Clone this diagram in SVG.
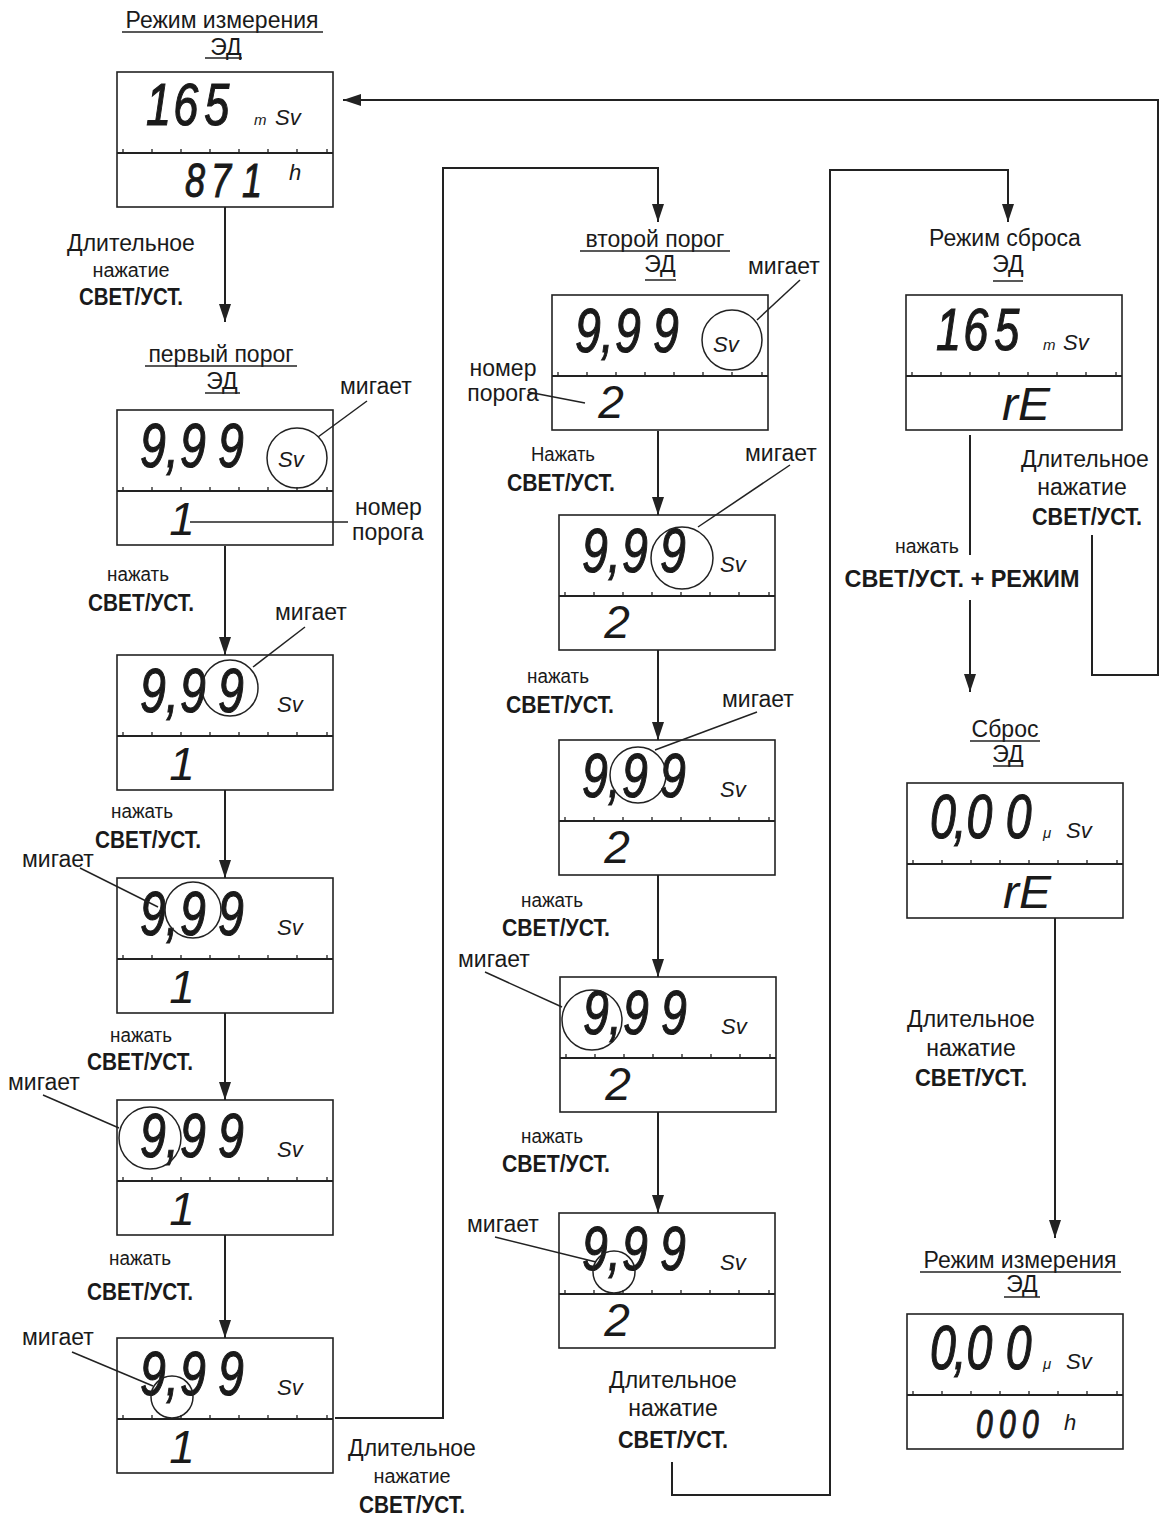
<svg xmlns="http://www.w3.org/2000/svg" xmlns:xlink="http://www.w3.org/1999/xlink" width="1161" height="1521" viewBox="0 0 1161 1521">
<style>
text{font-family:"Liberation Sans",Arial,sans-serif;fill:#1a1a1a}
.t{font-size:23px}
.m{text-anchor:middle}
.s{font-size:20px;text-anchor:middle}
.b{font-size:23px;font-weight:bold;text-anchor:middle}
.big{font-size:62px;font-style:italic;stroke:#1a1a1a;stroke-width:1.2}
.big6{font-size:60px;font-style:italic;stroke:#1a1a1a;stroke-width:1.2}
.sm{font-size:46px;font-style:italic}
.smb{font-style:italic;stroke:#1a1a1a;stroke-width:1}
.u{font-size:22px;font-style:italic}
.mu{font-size:15px;font-style:italic}
.ul{stroke:#222;stroke-width:1.5}
.frm{fill:#fff;stroke:#222;stroke-width:1.6}
.div{stroke:#222;stroke-width:2;fill:none}
.tk{stroke:#222;stroke-width:1.3}
.cir{fill:none;stroke:#222;stroke-width:1.5}
.ld{stroke:#222;stroke-width:1.5;fill:none}
.cn{stroke:#222;stroke-width:2;fill:none}
</style>
<defs>
<g id="frame">
<rect class="frm" x="0" y="0" width="216" height="135"/>
<line class="div" x1="0" y1="81" x2="216" y2="81"/>
<path class="tk" d="M6,81v-4M35,81v-4M64,81v-4M93,81v-4M122,81v-4M151,81v-4M180,81v-4M210,81v-4"/>
</g>
<marker id="ah" markerUnits="userSpaceOnUse" markerWidth="18" markerHeight="12" refX="18" refY="6" orient="auto">
<path d="M0,0L18,6L0,12z" fill="#222"/>
</marker>
</defs>
<rect width="1161" height="1521" fill="#fff"/>

<g id="connectors">
<line class="cn" x1="225" y1="207" x2="225" y2="322" marker-end="url(#ah)"/>
<line class="cn" x1="225" y1="546" x2="225" y2="655" marker-end="url(#ah)"/>
<line class="cn" x1="225" y1="790" x2="225" y2="878" marker-end="url(#ah)"/>
<line class="cn" x1="225" y1="1013" x2="225" y2="1100" marker-end="url(#ah)"/>
<line class="cn" x1="225" y1="1235" x2="225" y2="1338" marker-end="url(#ah)"/>
<polyline class="cn" points="335,1418 443,1418 443,168 658,168 658,222" marker-end="url(#ah)"/>
<line class="cn" x1="658" y1="431" x2="658" y2="515" marker-end="url(#ah)"/>
<line class="cn" x1="658" y1="650" x2="658" y2="740" marker-end="url(#ah)"/>
<line class="cn" x1="658" y1="875" x2="658" y2="977" marker-end="url(#ah)"/>
<line class="cn" x1="658" y1="1112" x2="658" y2="1213" marker-end="url(#ah)"/>
<polyline class="cn" points="672,1462 672,1495 830,1495 830,170 1008,170 1008,222" marker-end="url(#ah)"/>
<line class="cn" x1="970" y1="435" x2="970" y2="555"/>
<line class="cn" x1="970" y1="600" x2="970" y2="692" marker-end="url(#ah)"/>
<polyline class="cn" points="1092,535 1092,675 1158,675 1158,100 343,100" marker-end="url(#ah)"/>
<line class="cn" x1="1055" y1="918" x2="1055" y2="1238" marker-end="url(#ah)"/>
</g>

<g id="labels">
<text class="t m" x="131" y="251">Длительное</text>
<text class="s" x="131" y="277" textLength="77" lengthAdjust="spacingAndGlyphs">нажатие</text>
<text class="b" x="131" y="305" textLength="104" lengthAdjust="spacingAndGlyphs">СВЕТ/УСТ.</text>
<text class="s" x="138" y="581" textLength="62" lengthAdjust="spacingAndGlyphs">нажать</text>
<text class="b" x="141" y="611" textLength="106" lengthAdjust="spacingAndGlyphs">СВЕТ/УСТ.</text>
<text class="s" x="142" y="818" textLength="62" lengthAdjust="spacingAndGlyphs">нажать</text>
<text class="b" x="148" y="848" textLength="106" lengthAdjust="spacingAndGlyphs">СВЕТ/УСТ.</text>
<text class="s" x="141" y="1042" textLength="62" lengthAdjust="spacingAndGlyphs">нажать</text>
<text class="b" x="140" y="1070" textLength="106" lengthAdjust="spacingAndGlyphs">СВЕТ/УСТ.</text>
<text class="s" x="140" y="1265" textLength="62" lengthAdjust="spacingAndGlyphs">нажать</text>
<text class="b" x="140" y="1300" textLength="106" lengthAdjust="spacingAndGlyphs">СВЕТ/УСТ.</text>
<text class="t m" x="412" y="1456">Длительное</text>
<text class="s" x="412" y="1483" textLength="77" lengthAdjust="spacingAndGlyphs">нажатие</text>
<text class="b" x="412" y="1513" textLength="106" lengthAdjust="spacingAndGlyphs">СВЕТ/УСТ.</text>
<text class="s" x="563" y="461" textLength="64" lengthAdjust="spacingAndGlyphs">Нажать</text>
<text class="b" x="561" y="491" textLength="108" lengthAdjust="spacingAndGlyphs">СВЕТ/УСТ.</text>
<text class="s" x="558" y="683" textLength="62" lengthAdjust="spacingAndGlyphs">нажать</text>
<text class="b" x="560" y="713" textLength="108" lengthAdjust="spacingAndGlyphs">СВЕТ/УСТ.</text>
<text class="s" x="552" y="907" textLength="62" lengthAdjust="spacingAndGlyphs">нажать</text>
<text class="b" x="556" y="936" textLength="108" lengthAdjust="spacingAndGlyphs">СВЕТ/УСТ.</text>
<text class="s" x="552" y="1143" textLength="62" lengthAdjust="spacingAndGlyphs">нажать</text>
<text class="b" x="556" y="1172" textLength="108" lengthAdjust="spacingAndGlyphs">СВЕТ/УСТ.</text>
<text class="t m" x="673" y="1388">Длительное</text>
<text class="t m" x="673" y="1416">нажатие</text>
<text class="b" x="673" y="1448" textLength="110" lengthAdjust="spacingAndGlyphs">СВЕТ/УСТ.</text>
<text class="t m" x="1085" y="467">Длительное</text>
<text class="t m" x="1082" y="495">нажатие</text>
<text class="b" x="1087" y="525" textLength="110" lengthAdjust="spacingAndGlyphs">СВЕТ/УСТ.</text>
<text class="s" x="927" y="553" textLength="64" lengthAdjust="spacingAndGlyphs">нажать</text>
<text class="b" x="962" y="587" textLength="235" lengthAdjust="spacingAndGlyphs">СВЕТ/УСТ. + РЕЖИМ</text>
<text class="t m" x="971" y="1027">Длительное</text>
<text class="t m" x="971" y="1056">нажатие</text>
<text class="b" x="971" y="1086" textLength="112" lengthAdjust="spacingAndGlyphs">СВЕТ/УСТ.</text>
</g>

<g id="node-measure-1">
<text class="t m" x="222" y="28">Режим измерения</text>
<line class="ul" x1="122" y1="32" x2="323" y2="32"/>
<text class="t m" x="226" y="55">ЭД</text>
<line class="ul" x1="205" y1="58" x2="242" y2="58"/>
<use xlink:href="#frame" x="117" y="72"/>
<g transform="translate(146,125) scale(0.75,1)"><text class="big6" dx="0 3 8">165</text></g>
<text class="mu" x="254" y="125">m</text>
<text class="u" x="275" y="125">Sv</text>
<g transform="translate(185,197) scale(0.75,1)"><text class="smb" font-size="48" dx="0 8 14.6">871</text></g>
<text class="u" x="289" y="180">h</text>
</g>

<g id="node-threshold1-a">
<text class="t m" x="221" y="362">первый порог</text>
<line class="ul" x1="145" y1="366" x2="297" y2="366"/>
<text class="t m" x="222" y="389">ЭД</text>
<line class="ul" x1="205" y1="393" x2="240" y2="393"/>
<use xlink:href="#frame" x="117" y="410"/>
<g transform="translate(140,467) scale(0.75,1)"><text class="big" dx="0 0 1.6 16.2">9,99</text></g>
<text class="u" x="278" y="467">Sv</text>
<circle class="cir" cx="297" cy="458" r="30"/>
<line class="ld" x1="318" y1="437" x2="367" y2="401"/>
<text class="t" x="340" y="394">мигает</text>
<text class="sm m" x="182" y="535">1</text>
<line class="ld" x1="190" y1="522" x2="348" y2="522"/>
<text class="t" x="355" y="515">номер</text>
<text class="t" x="352" y="540">порога</text>
</g>

<g id="node-threshold1-b">
<use xlink:href="#frame" x="117" y="655"/>
<g transform="translate(140,712) scale(0.75,1)"><text class="big" dx="0 0 1.6 16.2">9,99</text></g>
<text class="u" x="277" y="712">Sv</text>
<circle class="cir" cx="230" cy="688" r="28"/>
<line class="ld" x1="253" y1="667" x2="305" y2="627"/>
<text class="t" x="275" y="620">мигает</text>
<text class="sm m" x="182" y="780">1</text>
</g>

<g id="node-threshold1-c">
<use xlink:href="#frame" x="117" y="878"/>
<g transform="translate(140,935) scale(0.75,1)"><text class="big" dx="0 0 1.6 16.2">9,99</text></g>
<text class="u" x="277" y="935">Sv</text>
<circle class="cir" cx="193" cy="910" r="28"/>
<line class="ld" x1="80" y1="868" x2="158" y2="907"/>
<text class="t" x="22" y="867">мигает</text>
<text class="sm m" x="182" y="1003">1</text>
</g>

<g id="node-threshold1-d">
<use xlink:href="#frame" x="117" y="1100"/>
<g transform="translate(140,1157) scale(0.75,1)"><text class="big" dx="0 0 1.6 16.2">9,99</text></g>
<text class="u" x="277" y="1157">Sv</text>
<circle class="cir" cx="150" cy="1138" r="31"/>
<line class="ld" x1="43" y1="1095" x2="119" y2="1128"/>
<text class="t" x="8" y="1090">мигает</text>
<text class="sm m" x="182" y="1225">1</text>
</g>

<g id="node-threshold1-e">
<use xlink:href="#frame" x="117" y="1338"/>
<g transform="translate(140,1395) scale(0.75,1)"><text class="big" dx="0 0 1.6 16.2">9,99</text></g>
<text class="u" x="277" y="1395">Sv</text>
<circle class="cir" cx="172" cy="1397" r="21"/>
<line class="ld" x1="72" y1="1352" x2="153" y2="1386"/>
<text class="t" x="22" y="1345">мигает</text>
<text class="sm m" x="182" y="1463">1</text>
</g>

<g id="node-threshold2-a">
<text class="t m" x="655" y="247">второй порог</text>
<line class="ul" x1="580" y1="251" x2="730" y2="251"/>
<text class="t m" x="660" y="272">ЭД</text>
<line class="ul" x1="645" y1="280" x2="676" y2="280"/>
<use xlink:href="#frame" x="552" y="295"/>
<g transform="translate(575,352) scale(0.75,1)"><text class="big" dx="0 0 1.6 16.2">9,99</text></g>
<text class="u" x="713" y="352">Sv</text>
<circle class="cir" cx="732" cy="340" r="30"/>
<line class="ld" x1="757" y1="320" x2="800" y2="280"/>
<text class="t" x="748" y="274">мигает</text>
<text class="sm m" x="611" y="418">2</text>
<line class="ld" x1="528" y1="392" x2="585" y2="403"/>
<text class="t m" x="503" y="376">номер</text>
<text class="t m" x="503" y="401">порога</text>
</g>

<g id="node-threshold2-b">
<use xlink:href="#frame" x="559" y="515"/>
<g transform="translate(582,572) scale(0.75,1)"><text class="big" dx="0 0 1.6 16.2">9,99</text></g>
<text class="u" x="720" y="572">Sv</text>
<circle class="cir" cx="682" cy="558" r="31"/>
<line class="ld" x1="698" y1="527" x2="790" y2="465"/>
<text class="t" x="745" y="461">мигает</text>
<text class="sm m" x="617" y="638">2</text>
</g>

<g id="node-threshold2-c">
<use xlink:href="#frame" x="559" y="740"/>
<g transform="translate(582,797) scale(0.75,1)"><text class="big" dx="0 0 1.6 16.2">9,99</text></g>
<text class="u" x="720" y="797">Sv</text>
<circle class="cir" cx="638" cy="775" r="28"/>
<line class="ld" x1="655" y1="750" x2="757" y2="712"/>
<text class="t" x="722" y="707">мигает</text>
<text class="sm m" x="617" y="863">2</text>
</g>

<g id="node-threshold2-d">
<use xlink:href="#frame" x="560" y="977"/>
<g transform="translate(583,1034) scale(0.75,1)"><text class="big" dx="0 0 1.6 16.2">9,99</text></g>
<text class="u" x="721" y="1034">Sv</text>
<circle class="cir" cx="592" cy="1020" r="30"/>
<line class="ld" x1="485" y1="972" x2="562" y2="1007"/>
<text class="t" x="458" y="967">мигает</text>
<text class="sm m" x="618" y="1100">2</text>
</g>

<g id="node-threshold2-e">
<use xlink:href="#frame" x="559" y="1213"/>
<g transform="translate(582,1270) scale(0.75,1)"><text class="big" dx="0 0 1.6 16.2">9,99</text></g>
<text class="u" x="720" y="1270">Sv</text>
<circle class="cir" cx="614" cy="1272" r="21"/>
<line class="ld" x1="495" y1="1237" x2="596" y2="1262"/>
<text class="t" x="467" y="1232">мигает</text>
<text class="sm m" x="617" y="1336">2</text>
</g>

<g id="node-reset-mode">
<text class="t m" x="1005" y="246">Режим сброса</text>
<text class="t m" x="1008" y="272">ЭД</text>
<line class="ul" x1="993" y1="281" x2="1023" y2="281"/>
<use xlink:href="#frame" x="906" y="295"/>
<g transform="translate(936,350) scale(0.75,1)"><text class="big6" dx="0 3 8">165</text></g>
<text class="mu" x="1043" y="350">m</text>
<text class="u" x="1063" y="350">Sv</text>
<text class="sm" x="1002" y="420" textLength="48" lengthAdjust="spacingAndGlyphs">rE</text>
</g>

<g id="node-reset">
<text class="t m" x="1005" y="737">Сброс</text>
<line class="ul" x1="970" y1="741" x2="1040" y2="741"/>
<text class="t m" x="1008" y="762">ЭД</text>
<line class="ul" x1="993" y1="766" x2="1023" y2="766"/>
<use xlink:href="#frame" x="907" y="783"/>
<g transform="translate(930,838) scale(0.75,1)"><text class="big" dx="0 -3 0 17.8">0,00</text></g>
<text class="mu" x="1043" y="838">μ</text>
<text class="u" x="1066" y="838">Sv</text>
<text class="sm" x="1003" y="908" textLength="48" lengthAdjust="spacingAndGlyphs">rE</text>
</g>

<g id="node-measure-2">
<text class="t m" x="1020" y="1268">Режим измерения</text>
<line class="ul" x1="920" y1="1272" x2="1121" y2="1272"/>
<text class="t m" x="1022" y="1292">ЭД</text>
<line class="ul" x1="1004" y1="1297" x2="1040" y2="1297"/>
<use xlink:href="#frame" x="907" y="1314"/>
<g transform="translate(930,1369) scale(0.75,1)"><text class="big" dx="0 -3 0 17.8">0,00</text></g>
<text class="mu" x="1043" y="1369">μ</text>
<text class="u" x="1066" y="1369">Sv</text>
<g transform="translate(976,1438) scale(0.75,1)"><text class="smb" font-size="40" dx="0 8.4 8.4">000</text></g>
<text class="u" x="1064" y="1430">h</text>
</g>
</svg>
